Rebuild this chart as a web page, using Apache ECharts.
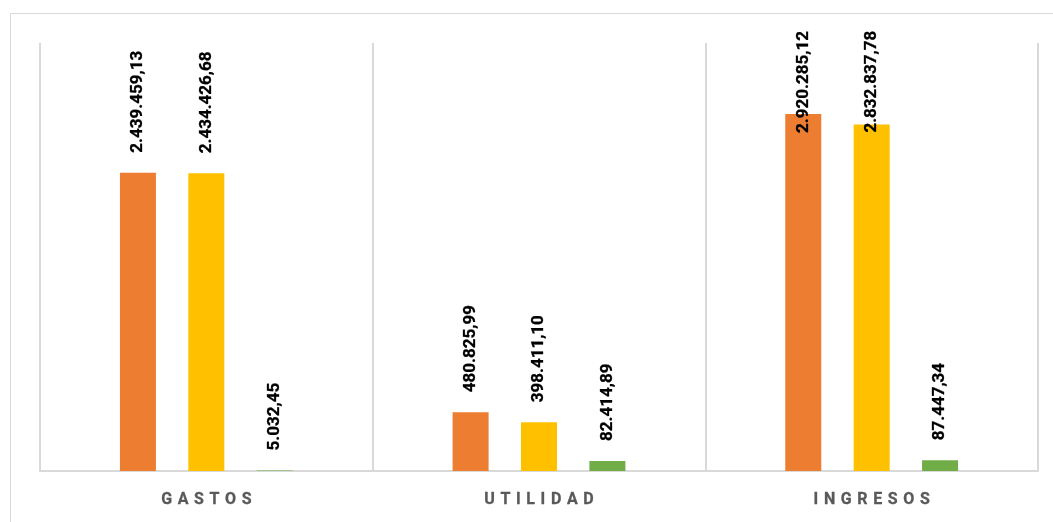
<!DOCTYPE html>
<html><head><meta charset="utf-8">
<script src="https://cdn.jsdelivr.net/npm/echarts@6/dist/echarts.min.js"></script>
<style>html,body{margin:0;padding:0;background:#fff}#c{width:1053px;height:522px}</style>
</head><body><div id="c"></div>
<script>
const categories = ['GASTOS', 'UTILIDAD', 'INGRESOS'];
const seriesNames = ['Serie 1', 'Serie 2', 'Serie 3'];
const serie1 = [2439459.13, 480825.99, 2920285.12];
const serie2 = [2434426.68, 398411.10, 2832837.78];
const serie3 = [5032.45, 82414.89, 87447.34];
const colors = ['#ED7D31', '#FFC000', '#70AD47'];
// labels that Excel pushed down to stay inside the chart area
const labelDistanceOverride = { '0-2': -19, '1-2': -8 };

function fmt(v) {
  const parts = v.toFixed(2).split('.');
  return parts[0].replace(/\B(?=(\d{3})+(?!\d))/g, '.') + ',' + parts[1];
}
const chart = echarts.init(document.getElementById('c'));
const allData = [serie1, serie2, serie3];
const series = allData.map((arr, si) => ({
  name: seriesNames[si],
  type: 'bar',
  barWidth: 36,
  barGap: '90%',
  itemStyle: { color: colors[si] },
  label: {
    show: true, position: 'top', distance: 20, rotate: 90,
    align: 'left', verticalAlign: 'middle',
    fontFamily: 'Roboto', fontWeight: 'bold', fontSize: 17, color: '#000',
    textBorderColor: '#000', textBorderWidth: 0.3,
    formatter: p => fmt(p.value)
  },
  data: arr.map((v, ci) => {
    const k = si + '-' + ci;
    return k in labelDistanceOverride ? { value: v, label: { distance: labelDistanceOverride[k] } } : v;
  })
}));
chart.setOption({
  animation: false,
  graphic: [{ type: 'rect', shape: { x: 10.5, y: 13.5, width: 1100, height: 600 }, style: { fill: 'none', stroke: '#d9d9d9', lineWidth: 1 }, silent: true }],
  grid: { left: 40, right: 15, top: 43, bottom: 51 },
  xAxis: {
    type: 'category', data: categories,
    axisLine: { lineStyle: { color: '#d9d9d9', width: 2 } },
    axisTick: { show: false },
    splitLine: { show: true, lineStyle: { color: '#d9d9d9', width: 2 } },
    axisLabel: { color: '#595959', fontFamily: 'Roboto', fontWeight: 'bold', fontSize: 16, margin: 21,
      textBorderColor: '#595959', textBorderWidth: 0.3,
      formatter: v => v.split('').join(' \u200A') }
  },
  yAxis: { type: 'value', min: 0, max: 3500000, show: false, splitLine: { show: false } },
  series
});
</script></body></html>
